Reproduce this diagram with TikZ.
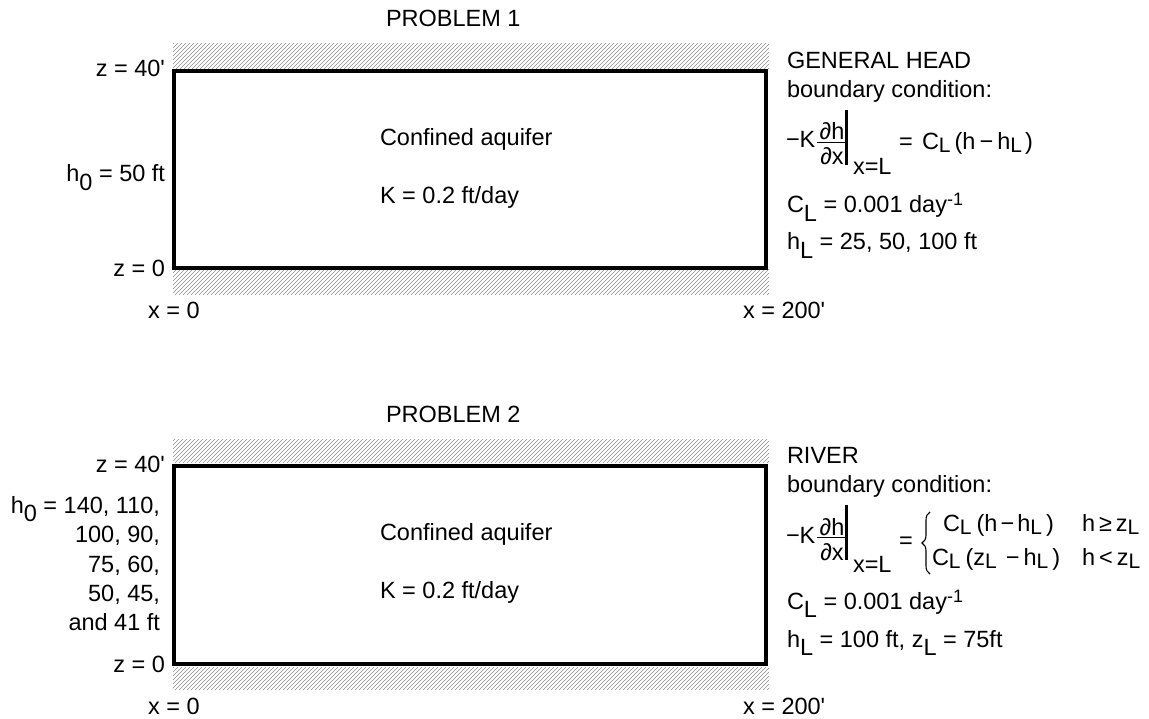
\documentclass[tikz,border=0pt]{standalone}
\usepackage{fontspec}
\setmainfont{Liberation Sans}[Ligatures=TeXOff]
\usetikzlibrary{decorations.pathreplacing}
\newcommand\lsub[1]{\raisebox{-8.5pt}{#1}}
\newcommand\esub[1]{\raisebox{-3pt}{\fontsize{21}{21}\selectfont #1}}
\newcommand\lsup[1]{\raisebox{7pt}{\fontsize{18}{18}\selectfont #1}}
\newcommand\hatchband[4]{%
  \begin{scope}
    \clip (#1,#2) rectangle (#3,#4);
    \foreach \i in {0,...,160}{\draw[hatchline] ({#1-30+\i*4},#4) -- ++(30,-30);}
  \end{scope}}
\begin{document}
\begin{tikzpicture}[x=1pt,y=-1pt,
  txt/.style={inner sep=0pt, outer sep=0pt, font=\fontsize{23.5}{29}\selectfont},
  lw/.style={txt, anchor=base west},
  le/.style={txt, anchor=base east},
  lc/.style={txt, anchor=base},
  hatchline/.style={black!45, line width=0.6pt},
  wall/.style={line width=4pt},
  fracline/.style={line width=1.6pt},
  evalbar/.style={line width=2.4pt},
  bracestyle/.style={decorate, decoration={brace, amplitude=8pt, aspect=0.5}, line width=1.1pt}]
\useasboundingbox (0,0) rectangle (1149,719);

% ---------------- PROBLEM 1 ----------------
\node[lw] (t1) at (386,27) {PROBLEM 1};
\hatchband{173}{44}{769}{70}
\hatchband{173}{270}{769}{295}
\draw[wall] (174,71) rectangle (766,268);
\node[le] (z40a) at (165,77) {z = 40'};
\node[le] (h0a) at (165,182) {h\lsub{0} = 50 ft};
\node[le] (z0a) at (165,277) {z = 0};
\node[lw] (x0a) at (148,319) {x = 0};
\node[lw] (x200a) at (743,319) {x = 200'};
\node[lw] (confa) at (380,146) {Confined aquifer};
\node[lw] (ka) at (380,204) {K = 0.2 ft/day};

\node[lw] (gh) at (787,69) {GENERAL HEAD};
\node[lw] (bca) at (787,98) {boundary condition:};
\node[lw] (mka) at (786,148) {−K};
\node[lc] (dha) at (832,140) {∂h};
\node[lc] (dxa) at (832,165) {∂x};
\draw[fracline] (817,142.5) -- (845,142.5);
\draw[evalbar] (846.5,110) -- (846.5,165);
\node[lw] (xla) at (853,175) {x=L};
\node[lw] (eqa) at (899,150) {=};
\node[lw] (rhsa) at (922,150) {C\esub{L}\hspace{4pt}(h\hspace{4pt}−\hspace{4pt}h\esub{L}\hspace{3pt})};
\node[lw] (cla) at (787,213) {C\lsub{L} = 0.001 day\lsup{-1}};
\node[lw] (hla) at (787,250) {h\lsub{L} = 25, 50, 100 ft};

% ---------------- PROBLEM 2 ----------------
\node[lw] (t2) at (386,422) {PROBLEM 2};
\hatchband{173}{439}{769}{463}
\hatchband{173}{667}{769}{690}
\draw[wall] (174,466) rectangle (766,664);
\node[le] (z40b) at (165,472) {z = 40'};
\node[le] (h0b1) at (160,513) {h\lsub{0} = 140, 110,};
\node[le] (h0b2) at (160,542.5) {100, 90,};
\node[le] (h0b3) at (160,572) {75, 60,};
\node[le] (h0b4) at (160,601) {50, 45,};
\node[le] (h0b5) at (160,630) {and 41 ft};
\node[le] (z0b) at (165,672) {z = 0};
\node[lw] (x0b) at (148,714.5) {x = 0};
\node[lw] (x200b) at (743,714.5) {x = 200'};
\node[lw] (confb) at (380,540) {Confined aquifer};
\node[lw] (kb) at (380,598) {K = 0.2 ft/day};

\node[lw] (riv) at (787,463) {RIVER};
\node[lw] (bcb) at (787,492) {boundary condition:};
\node[lw] (mkb) at (786,543) {−K};
\node[lc] (dhb) at (832,535) {∂h};
\node[lc] (dxb) at (832,560) {∂x};
\draw[fracline] (817,537.5) -- (845,537.5);
\draw[evalbar] (846.5,505) -- (846.5,560);
\node[lw] (xlb) at (853,572) {x=L};
\node[lw] (eqb) at (899,548) {=};
\coordinate (brb) at (930,574);
\coordinate (brt) at (930,512);
\draw[bracestyle] (brb) -- (brt);
\node[lw] (r1a) at (943,531) {C\esub{L}\hspace{5pt}(h\hspace{3pt}−\hspace{3pt}h\esub{L}\hspace{4pt})};
\node[lw] (r1b) at (1082,531) {h\hspace{4pt}≥\hspace{4pt}z\esub{L}};
\node[lw] (r2a) at (932,565) {C\esub{L}\hspace{5pt}(z\esub{L}\hspace{9pt}−\hspace{4pt}h\esub{L}\hspace{4pt})};
\node[lw] (r2b) at (1082,565) {h\hspace{4pt}<\hspace{4pt}z\esub{L}};
\node[lw] (clb) at (787,609) {C\lsub{L} = 0.001 day\lsup{-1}};
\node[lw] (hlb) at (787,647) {h\lsub{L} = 100 ft, z\lsub{L} = 75ft};
\end{tikzpicture}
\end{document}
